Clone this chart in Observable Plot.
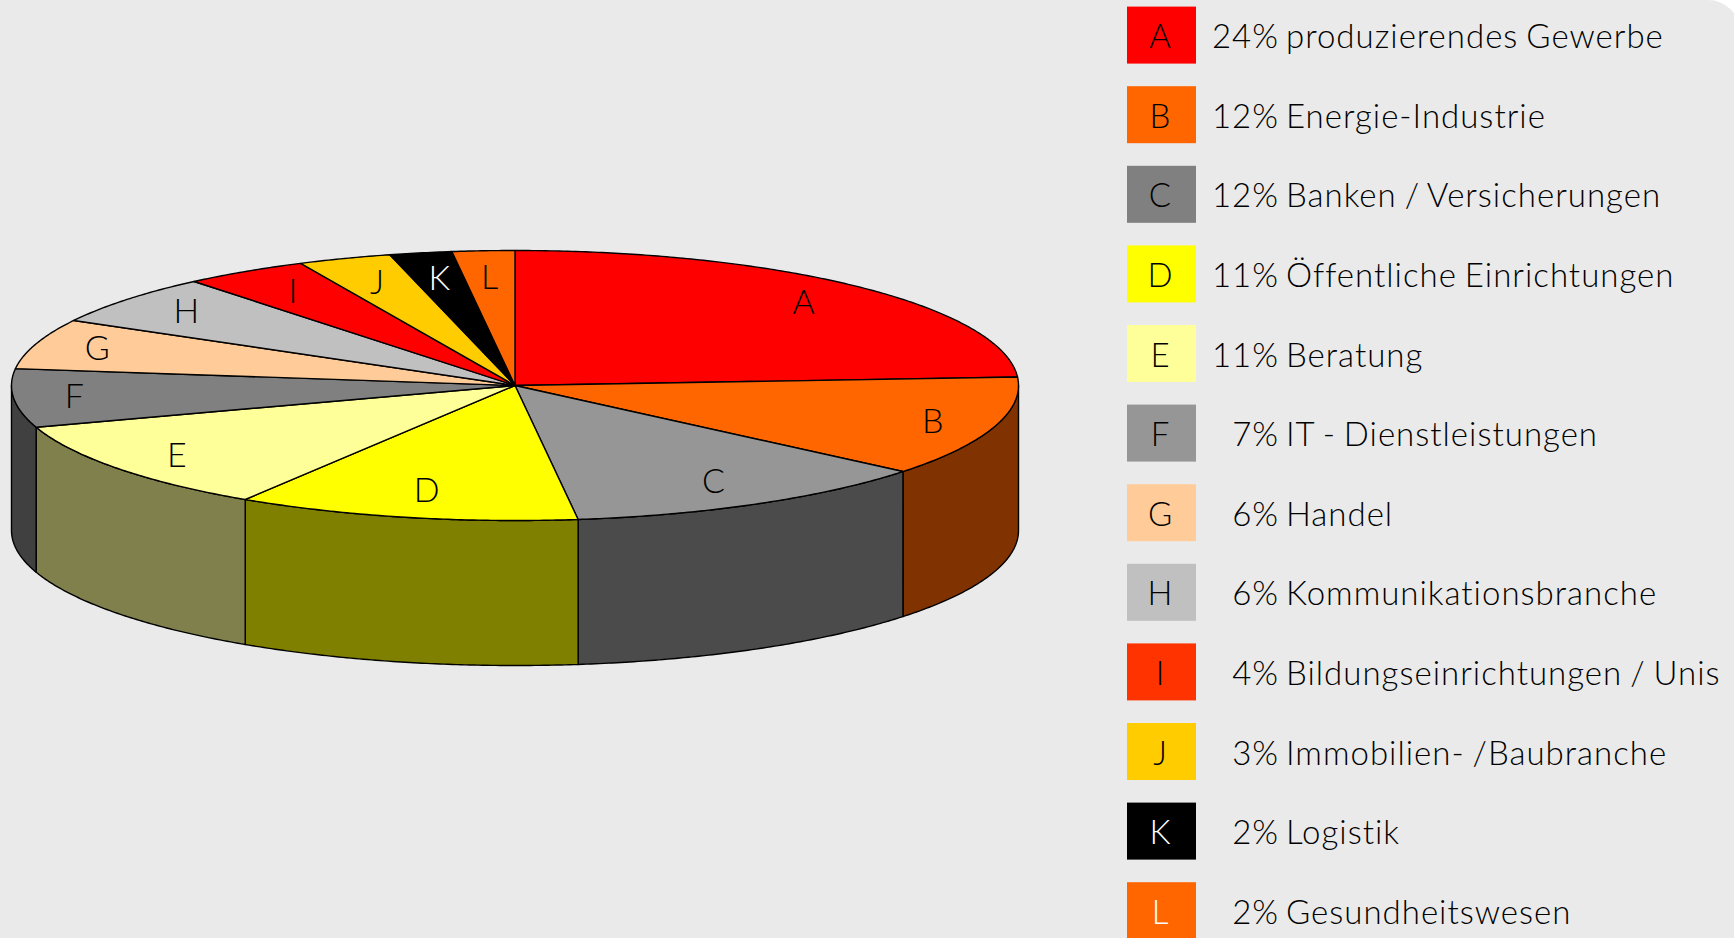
<!DOCTYPE html>
<html>
<head>
<meta charset="utf-8">
<script src="https://cdn.jsdelivr.net/npm/d3@7"></script>
<script src="https://cdn.jsdelivr.net/npm/@observablehq/plot@0.6"></script>
<style>
  html, body { margin: 0; padding: 0; background: #ffffff; }
  #page {
    width: 1740px; height: 938px; background: #eaeaea;
    border-top-right-radius: 32px; display: flex; flex-direction: row;
    overflow: hidden;
  }
  #page svg { display: block; }
  #legend svg text { letter-spacing: 1px; word-spacing: -2px; }
</style>
</head>
<body>
<div id="page"><div id="pie"></div><div id="legend"></div></div>
<script>
// ---- data ----
const letters = ["A","B","C","D","E","F","G","H","I","J","K","L"];
const shares = [24, 12, 12, 11, 11, 7, 6, 6, 4, 3, 2, 2];
const names = [
  "produzierendes Gewerbe",
  "Energie-Industrie",
  "Banken / Versicherungen",
  "Öffentliche Einrichtungen",
  "Beratung",
  "IT - Dienstleistungen",
  "Handel",
  "Kommunikationsbranche",
  "Bildungseinrichtungen / Unis",
  "Immobilien- /Baubranche",
  "Logistik",
  "Gesundheitswesen"
];
// ---- styles ----
const pieColors = ["#ff0000","#ff6600","#969696","#ffff00","#ffff99","#808080","#ffcc99","#c0c0c0","#ff0000","#ffcc00","#000000","#ff6600"];
const legendColors = ["#ff0000","#ff6600","#808080","#ffff00","#ffff99","#969696","#ffcc99","#c0c0c0","#ff3300","#ffcc00","#000000","#ff6600"];
const pieLabelColors = ["black","black","black","black","black","black","black","black","black","black","white","black"];
const legendLabelColors = ["black","black","black","black","black","black","black","black","black","black","white","white"];

const FONT = "Lato, 'Open Sans', sans-serif";
const SPACING = 1;

// ---- geometry (layout) ----
const cx = 514.5, cy = 385, rx = 503.5, ry = 135, depth = 145;
const thick = depth / ry; // in y-domain units

function half(c) {
  const r = d3.rgb(c);
  return d3.rgb(r.r * 0.5, r.g * 0.5, r.b * 0.5).formatHex();
}

const total = d3.sum(shares);
let acc = 0;
const slices = letters.map((l, i) => {
  const a0 = acc / total * 360;
  acc += shares[i];
  const a1 = acc / total * 360;
  return {letter: l, a0, a1, color: pieColors[i], label: pieLabelColors[i]};
});

const rad = a => a * Math.PI / 180;
function arc(a0, a1, dv = 0) {
  const n = Math.max(2, Math.ceil(Math.abs(a1 - a0) / 0.5));
  const pts = [];
  for (let k = 0; k <= n; k++) {
    const a = a0 + (a1 - a0) * k / n;
    pts.push({x: Math.sin(rad(a)), y: Math.cos(rad(a)) + dv});
  }
  return pts;
}

const walls = [];
for (const s of slices) {
  const b0 = Math.max(s.a0, 90), b1 = Math.min(s.a1, 270);
  if (b1 > b0) {
    walls.push({color: half(s.color), pts: [...arc(b0, b1), ...arc(b1, b0, -thick)]});
  }
}
const tops = slices.map(s => ({color: s.color, pts: [{x: 0, y: 0}, ...arc(s.a0, s.a1)]}));

const labels = slices.map(s => {
  const m = rad((s.a0 + s.a1) / 2);
  const r = 0.80 + 0.08 * Math.sin(m) ** 2;
  return {letter: s.letter, x: r * Math.sin(m), y: r * Math.cos(m), fill: s.label};
});

const lineOpts = {x: "x", y: "y", stroke: "black", strokeWidth: 1.4, curve: "linear-closed", strokeLinejoin: "round"};

const pie = Plot.plot({
  width: 1100, height: 938, margin: 0,
  style: {background: "transparent", fontFamily: FONT},
  x: {domain: [-1, 1], range: [cx - rx, cx + rx], axis: null},
  y: {domain: [-1, 1], range: [cy + ry, cy - ry], axis: null},
  color: {type: "identity"},
  marks: [
    ...walls.map(w => Plot.line(w.pts, {...lineOpts, fill: w.color})),
    ...tops.map(t => Plot.line(t.pts, {...lineOpts, fill: t.color})),
    Plot.text(labels, {x: "x", y: "y", text: "letter", fill: "fill", fontSize: 34, fontWeight: 300, fontFamily: FONT})
  ]
});
document.getElementById("pie").appendChild(pie);

// ---- legend ----
const rows = letters.map((l, i) => ({
  letter: l, pct: shares[i] + "%", name: names[i],
  box: legendColors[i], ink: legendLabelColors[i]
}));

const legend = Plot.plot({
  width: 634, height: 938, margin: 0,
  style: {background: "transparent", fontFamily: FONT},
  x: {type: "band", domain: ["swatch"], range: [27, 96], padding: 0, round: false, axis: null},
  y: {type: "band", domain: letters, range: [6.6, 939.2], paddingInner: 0.284, paddingOuter: 0, round: false, axis: null},
  color: {type: "identity"},
  marks: [
    Plot.cell(rows, {x: () => "swatch", y: "letter", fill: "box"}),
    Plot.text(rows, {x: () => "swatch", y: "letter", text: "letter", fill: "ink", fontSize: 33, fontWeight: 300, dx: -2 + SPACING / 2, dy: 2, fontFamily: FONT}),
    Plot.text(rows, {x: () => "swatch", y: "letter", text: "pct", fill: "black", fontSize: 33, fontWeight: 300, dx: 116 + SPACING, dy: 2, textAnchor: "end", fontFamily: FONT}),
    Plot.text(rows, {x: () => "swatch", y: "letter", text: "name", fill: "black", fontSize: 33, fontWeight: 300, dx: 124, dy: 2, textAnchor: "start", fontFamily: FONT})
  ]
});
document.getElementById("legend").appendChild(legend);
</script>
</body>
</html>
